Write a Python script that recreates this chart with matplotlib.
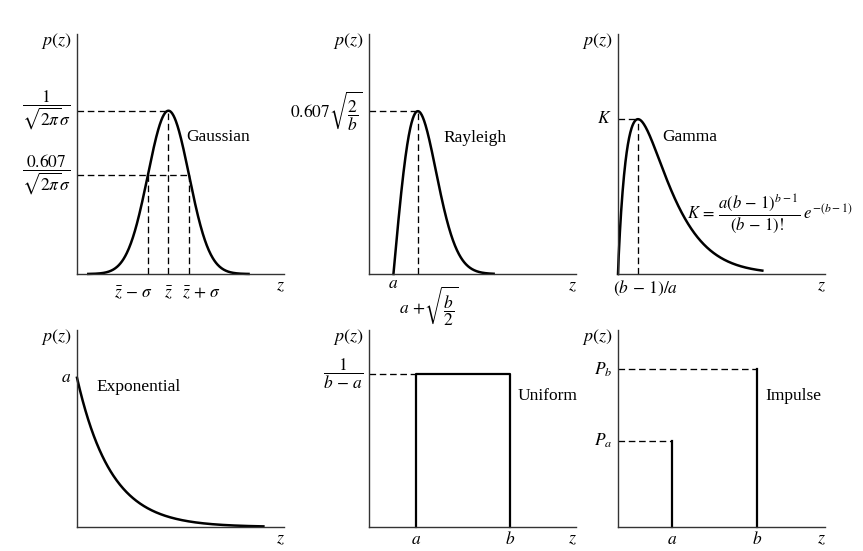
import math
import numpy as np
import matplotlib
matplotlib.use('Agg')
import matplotlib.pyplot as plt

plt.rcParams['font.family'] = ['Liberation Serif', 'DejaVu Serif']
plt.rcParams['mathtext.fontset'] = 'stix'

# --- parametros de cada painel ---
# Gaussiana (unidades de sigma)
gauss_mean = 0.0
gauss_sigma = 1.0
gauss_xlim = (-4.45, 5.6)
gauss_range = (-3.9, 3.9)
gauss_ytop = 1.47          # em relacao ao pico

# Rayleigh
ray_a = 1.0
ray_b = 2.0
ray_xlim = (0, 8.45)
ray_end = 5.1
ray_ytop = 0.894

# Gamma (Erlang)
gam_a = 1.0
gam_b = 1.9
gam_xlim = (0, 9.3)
gam_end = 6.5
gam_ytop_ratio = 1.55

# Exponencial
exp_a = 1.0
exp_xlim = (0, 6.06)
exp_end = 5.47
exp_ytop = 1.32

# Uniforme
uni_a = 1.0
uni_b = 3.0
uni_xlim = (0, 4.38)
uni_ytop = 0.644

# Impulso
imp_a = 1.0
imp_b = 2.57
imp_Pa = 0.545
imp_Pb = 1.0
imp_xlim = (0, 3.81)
imp_ytop = 1.25

LW_CURVE = 1.8
LW_AXIS = 1.0
LW_DASH = 0.95
DASH = (5.0, 2.8)
AXCOL = '#333333'
FS_TXT = 12.5
FS_LBL = 12.5

fig = plt.figure(figsize=(8.63, 5.51), dpi=100)
W, H = 863.0, 551.0


def make_axes(x0, ytop, ybot, w=206.5):
    ax = fig.add_axes([x0 / W, (H - ybot) / H, w / W, (ybot - ytop) / H])
    for s in ['top', 'right']:
        ax.spines[s].set_visible(False)
    for s in ['left', 'bottom']:
        ax.spines[s].set_linewidth(LW_AXIS)
        ax.spines[s].set_color(AXCOL)
    ax.set_xticks([])
    ax.set_yticks([])
    ax.patch.set_alpha(0)
    ax.annotate('$p(z)$', xy=(0, 1), xycoords='axes fraction', xytext=(-5, -7),
                textcoords='offset pixels', ha='right', va='center', fontsize=13)
    ax.annotate('$z$', xy=(1, 0), xycoords='axes fraction', xytext=(-3, -12),
                textcoords='offset pixels', ha='center', va='center', fontsize=13)
    return ax


def dash(ax, xs, ys):
    ax.plot(xs, ys, color='black', lw=LW_DASH, linestyle=(0, DASH), clip_on=False)


def ylabel(ax, y, txt, fs=FS_LBL):
    ax.annotate(txt, xy=(0, y), xycoords=('axes fraction', 'data'), xytext=(-6, 0),
                textcoords='offset pixels', ha='right', va='center', fontsize=fs)


def xlabel(ax, x, txt, dy=-12, dx=0, ha='center', fs=FS_LBL):
    ax.annotate(txt, xy=(x, 0), xycoords=('data', 'axes fraction'), xytext=(dx, dy),
                textcoords='offset pixels', ha=ha, va='center', fontsize=fs)


# --- Gaussiana ---
ax = make_axes(77, 34, 274)
z = np.linspace(*gauss_range, 400)
p = np.exp(-(z - gauss_mean) ** 2 / (2 * gauss_sigma ** 2))
ax.plot(z, p, color='black', lw=LW_CURVE, clip_on=False)
ax.set_xlim(*gauss_xlim)
ax.set_ylim(0, gauss_ytop)
lev = math.exp(-0.5)
x0 = gauss_xlim[0]
dash(ax, [x0, gauss_mean], [1, 1])
dash(ax, [x0, gauss_mean + gauss_sigma], [lev, lev])
dash(ax, [gauss_mean, gauss_mean], [0, 1])
dash(ax, [gauss_mean - gauss_sigma] * 2, [0, lev])
dash(ax, [gauss_mean + gauss_sigma] * 2, [0, lev])
ylabel(ax, 1, r'$\dfrac{1}{\sqrt{2\pi}\sigma}$')
ylabel(ax, lev, r'$\dfrac{0.607}{\sqrt{2\pi}\sigma}$')
xlabel(ax, gauss_mean - gauss_sigma, r'$\bar{z}\,-\,\sigma$', dy=-19, dx=5, ha='right')
xlabel(ax, gauss_mean, r'$\bar{z}$', dy=-19)
xlabel(ax, gauss_mean + gauss_sigma, r'$\bar{z}\,+\,\sigma$', dy=-19, dx=-7, ha='left')
ax.text(0.53, 0.57, 'Gaussian', transform=ax.transAxes, fontsize=FS_TXT, va='center')

# --- Rayleigh ---
ax = make_axes(369, 34, 274)
z = np.linspace(ray_a, ray_end, 400)
p = 2.0 / ray_b * (z - ray_a) * np.exp(-(z - ray_a) ** 2 / ray_b)
ax.plot(z, p, color='black', lw=LW_CURVE, clip_on=False)
ax.set_xlim(*ray_xlim)
ax.set_ylim(0, ray_ytop)
zpk = ray_a + math.sqrt(ray_b / 2)
ppk = math.sqrt(2 / ray_b) * math.exp(-0.5)
dash(ax, [0, zpk], [ppk, ppk])
dash(ax, [zpk, zpk], [0, ppk])
ylabel(ax, ppk, r'$0.607\sqrt{\dfrac{2}{b}}$')
xlabel(ax, ray_a, '$a$', dy=-10)
xlabel(ax, zpk, r'$a\,+\!\sqrt{\dfrac{b}{2}}$', dy=-32, dx=11)
ax.text(0.36, 0.565, 'Rayleigh', transform=ax.transAxes, fontsize=FS_TXT, va='center')

# --- Gamma ---
ax = make_axes(618, 34, 274)
z = np.linspace(0, gam_end, 600)
p = gam_a ** gam_b * z ** (gam_b - 1) * np.exp(-gam_a * z) / math.gamma(gam_b)
ax.plot(z, p, color='black', lw=LW_CURVE, clip_on=False)
zpk = (gam_b - 1) / gam_a
K = gam_a * (gam_b - 1) ** (gam_b - 1) * math.exp(-(gam_b - 1)) / math.gamma(gam_b)
ax.set_xlim(*gam_xlim)
ax.set_ylim(0, K * gam_ytop_ratio)
dash(ax, [0, zpk], [K, K])
dash(ax, [zpk, zpk], [0, K])
ylabel(ax, K, '$K$')
xlabel(ax, 0, r'$(b\,-\,1)/a$', dy=-14, dx=-5, ha='left')
ax.text(0.215, 0.57, 'Gamma', transform=ax.transAxes, fontsize=FS_TXT, va='center')
ax.text(0.335, 0.255,
        r'$K\,=\,\dfrac{a(b\,-\,1)^{b-1}}{(b\,-\,1)!}\;e^{-(b-1)}$',
        transform=ax.transAxes, fontsize=12, va='center')

# --- Exponencial ---
ax = make_axes(77, 330, 527)
z = np.linspace(0, exp_end, 400)
p = exp_a * np.exp(-exp_a * z)
ax.plot(z, p, color='black', lw=LW_CURVE, clip_on=False)
ax.set_xlim(*exp_xlim)
ax.set_ylim(0, exp_ytop)
ylabel(ax, exp_a, '$a$')
ax.text(0.095, 0.71, 'Exponential', transform=ax.transAxes, fontsize=FS_TXT, va='center')

# --- Uniforme ---
ax = make_axes(369, 330, 527)
h = 1.0 / (uni_b - uni_a)
ax.plot([uni_a, uni_a, uni_b, uni_b], [0, h, h, 0], color='black', lw=1.6, clip_on=False)
ax.set_xlim(*uni_xlim)
ax.set_ylim(0, uni_ytop)
dash(ax, [0, uni_a], [h, h])
ylabel(ax, h, r'$\dfrac{1}{b\,-\,a}$')
xlabel(ax, uni_a, '$a$', dy=-13)
xlabel(ax, uni_b, '$b$', dy=-13)
ax.text(0.72, 0.665, 'Uniform', transform=ax.transAxes, fontsize=FS_TXT, va='center')

# --- Impulso ---
ax = make_axes(618, 330, 527)
ax.plot([imp_a, imp_a], [0, imp_Pa], color='black', lw=1.6, clip_on=False)
ax.plot([imp_b, imp_b], [0, imp_Pb], color='black', lw=1.6, clip_on=False)
ax.set_xlim(*imp_xlim)
ax.set_ylim(0, imp_ytop)
dash(ax, [0, imp_a], [imp_Pa, imp_Pa])
dash(ax, [0, imp_b], [imp_Pb, imp_Pb])
ylabel(ax, imp_Pa, '$P_a$')
ylabel(ax, imp_Pb, '$P_b$')
xlabel(ax, imp_a, '$a$', dy=-13)
xlabel(ax, imp_b, '$b$', dy=-13)
ax.text(0.715, 0.665, 'Impulse', transform=ax.transAxes, fontsize=FS_TXT, va='center')

fig.savefig('out.png', dpi=100)
